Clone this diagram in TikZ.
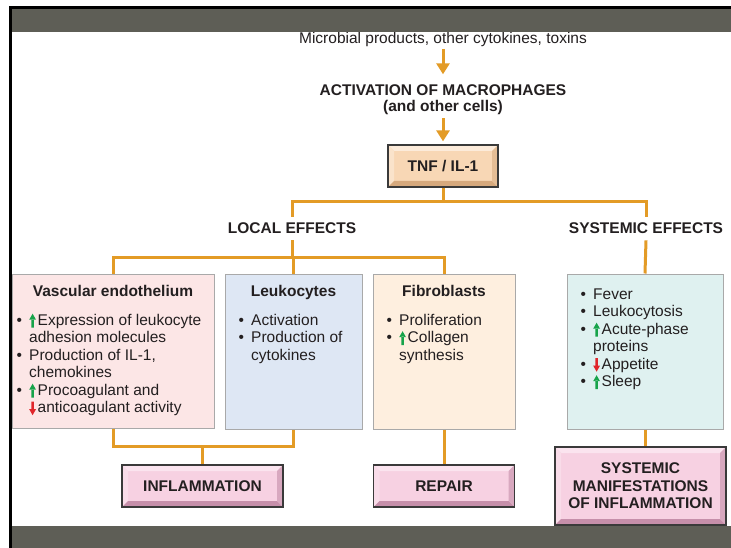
\documentclass[tikz,border=0pt]{standalone}
\usepackage{fontspec}
\setmainfont{Liberation Sans}
\usetikzlibrary{arrows.meta,positioning}

\definecolor{linkorange}{HTML}{E39B26}
\definecolor{bandgray}{HTML}{5E5E56}
\definecolor{inkgray}{HTML}{231F20}
\definecolor{edgegray}{HTML}{3A3A3A}
\definecolor{boxgray}{HTML}{A9A9A9}
\definecolor{vascfill}{HTML}{FCE6E6}
\definecolor{leukofill}{HTML}{DEE7F4}
\definecolor{fibrofill}{HTML}{FEEFDF}
\definecolor{sysfill}{HTML}{DFF1F0}
\definecolor{tanface}{HTML}{F8D7B5}
\definecolor{tantop}{HTML}{FCEBDA}
\definecolor{tanleft}{HTML}{FAE3CB}
\definecolor{tanbot}{HTML}{D6A97D}
\definecolor{tanright}{HTML}{E4BD95}
\definecolor{pinkface}{HTML}{F7D1E2}
\definecolor{pinktop}{HTML}{FBE4EF}
\definecolor{pinkleft}{HTML}{F9DCE9}
\definecolor{pinkbot}{HTML}{C68FAA}
\definecolor{pinkright}{HTML}{D8A8BF}
\definecolor{upgreen}{HTML}{17A34A}
\definecolor{downred}{HTML}{E0262B}

\newcommand{\boxbody}{\fontsize{15.5}{17.5}\selectfont}
\newcommand{\boxhead}{\bfseries\fontsize{15.5}{17.5}\selectfont}
\newcommand{\itm}{\strut\makebox[12.5pt][l]{\textbullet}}
\newcommand{\cont}{\strut\hspace*{12.5pt}}
\newcommand{\incr}{\makebox[8.5pt][l]{\tikz[baseline=0pt,x=1pt,y=1pt]\fill[upgreen] (1.6,-2.5) rectangle (4,6) (-0.6,5.5) -- (6.2,5.5) -- (2.8,11.5) -- cycle;}}
\newcommand{\decr}{\makebox[8.5pt][l]{\tikz[baseline=0pt,x=1pt,y=1pt]\fill[downred] (1.6,3) rectangle (4,11) (-0.6,3.5) -- (6.2,3.5) -- (2.8,-2.5) -- cycle;}}

\tikzset{
  plain/.style={font=\boxbody, text=inkgray, inner sep=0pt},
  caps/.style={font=\boxhead, text=inkgray, inner sep=0pt, align=center},
  listtext/.style={font=\boxbody, text=inkgray, inner sep=0pt, align=left, anchor=north west},
  link/.style={draw=linkorange, line width=3pt},
  flow/.style={link, -{Triangle[length=11pt,width=13pt]}},
  cellbox/.style={draw=boxgray, line width=1pt, inner sep=0pt},
  bevelbox/.style n args={5}{draw=edgegray, line width=1.3pt, fill=#1, inner sep=0pt,
    font=\boxhead, text=inkgray, align=center,
    path picture={
      \path (path picture bounding box.north west) coordinate (pa)
            (path picture bounding box.north east) coordinate (pb)
            (path picture bounding box.south east) coordinate (pc)
            (path picture bounding box.south west) coordinate (pd);
      \fill[#2] (pa) -- (pb) -- ([shift={(-6pt,-6pt)}]pb) -- ([shift={(6pt,-6pt)}]pa) -- cycle;
      \fill[#3] (pa) -- ([shift={(6pt,-6pt)}]pa) -- ([shift={(6pt,6pt)}]pd) -- (pd) -- cycle;
      \fill[#4] (pd) -- ([shift={(6pt,6pt)}]pd) -- ([shift={(-6pt,6pt)}]pc) -- (pc) -- cycle;
      \fill[#5] (pb) -- (pc) -- ([shift={(-6pt,6pt)}]pc) -- ([shift={(-6pt,-6pt)}]pb) -- cycle;
    }},
  tanbox/.style={bevelbox={tanface}{tantop}{tanleft}{tanbot}{tanright}},
  pinkbox/.style={bevelbox={pinkface}{pinktop}{pinkleft}{pinkbot}{pinkright}}
}

\begin{document}
\begin{tikzpicture}[x=1pt,y=1pt]
    \useasboundingbox (0,0) rectangle (731,-548);
    \fill[white] (0,0) rectangle (731,-548);

    \node[plain, anchor=base] (src) at (443,-43.5) {Microbial products, other cytokines, toxins};
    \node[caps, anchor=north, font=\bfseries\fontsize{15.5}{16}\selectfont] (act) at (443,-84.3) {ACTIVATION OF MACROPHAGES\\(and other cells)};
    \node[tanbox, minimum width=110pt, minimum height=42pt] (tnf) at (443,-166) {TNF / IL-1};
    \draw[flow, shorten <=2pt, shorten >=10pt] (src.south) -- (act.north);
    \draw[flow, shorten <=3.5pt, shorten >=3pt] (act.south) -- (tnf.north);

    \node[caps, anchor=base] (loc) at (292,-234) {LOCAL EFFECTS};
    \node[caps, anchor=base] (sysfx) at (646,-234) {SYSTEMIC EFFECTS};
    \coordinate (split) at (443,-202);
    \draw[link] (tnf.south) -- (split);
    \draw[link] ([yshift=6pt]loc.north) -- (loc.north |- split) -- (sysfx.north |- split) -- ([yshift=6pt]sysfx.north);

    % the four effect boxes
    \node[cellbox, fill=vascfill, minimum width=202pt, minimum height=154pt] (vasc) at (113,-351) {};
    \node[cellbox, fill=leukofill, minimum width=137pt, minimum height=155pt] (leuko) at (293.5,-351.5) {};
    \node[cellbox, fill=fibrofill, minimum width=142pt, minimum height=155pt] (fibro) at (444,-351.5) {};
    \node[cellbox, fill=sysfill, minimum width=156pt, minimum height=155pt] (sysbox) at (645,-351.5) {};

    \coordinate (lsplit) at (292,-258);
    \draw[link] ([yshift=-6pt]loc.south) -- (lsplit);
    \draw[link] (vasc.north) -- (vasc.north |- lsplit) -- (fibro.north |- lsplit) -- (fibro.north);
    \draw[link] (leuko.north) -- (leuko.north |- lsplit);
    \draw[link] ([yshift=-6pt]sysfx.south) -- (sysbox.north);

    \node[caps, anchor=base] (vasctitle) at ([yshift=-23pt]vasc.north) {Vascular endothelium};
    \node[caps, anchor=base] (leukotitle) at ([yshift=-23pt]leuko.north) {Leukocytes};
    \node[caps, anchor=base] (fibrotitle) at ([yshift=-23pt]fibro.north) {Fibroblasts};

    \node[listtext] (vasclist) at ([shift={(5pt,-39.25pt)}]vasc.north west) {\itm\incr Expression of leukocyte\\
      \cont adhesion molecules\\
      \itm Production of IL-1,\\
      \cont chemokines\\
      \itm\incr Procoagulant and\\
      \cont\decr anticoagulant activity};
    \node[listtext] (leukolist) at ([shift={(14pt,-39.25pt)}]leuko.north west) {\itm Activation\\
      \itm Production of\\
      \cont cytokines};
    \node[listtext] (fibrolist) at ([shift={(14pt,-39.25pt)}]fibro.north west) {\itm Proliferation\\
      \itm\incr Collagen\\
      \cont synthesis};
    \node[listtext] (syslist) at ([shift={(14pt,-13.25pt)}]sysbox.north west) {\itm Fever\\
      \itm Leukocytosis\\
      \itm\incr Acute-phase\\
      \cont proteins\\
      \itm\decr Appetite\\
      \itm\incr Sleep};

    % outcomes
    \node[pinkbox, minimum width=161pt, minimum height=42pt] (infl) at (202.5,-486) {INFLAMMATION};
    \node[pinkbox, minimum width=141pt, minimum height=42pt] (repair) at (444,-486) {REPAIR};
    \node[pinkbox, minimum width=171pt, minimum height=78pt] (sysman) at (640.5,-486) {SYSTEMIC\\MANIFESTATIONS\\OF INFLAMMATION};
    \coordinate (bjoin) at (203,-446);
    \draw[link] (vasc.south) -- (vasc.south |- bjoin) -- (leuko.south |- bjoin) -- (leuko.south);
    \draw[link] (infl.north |- bjoin) -- (infl.north);
    \draw[link] (fibro.south) -- (repair.north);
    \draw[link] (sysbox.south) -- (sysbox.south |- sysman.north);

    % slide frame
    \fill[black] (9,-6) rectangle (731,-9);
    \fill[bandgray] (9,-9) rectangle (731,-32);
    \fill[black] (9,-6) rectangle (12,-548);
    \fill[bandgray] (12,-526) rectangle (731,-548);
\end{tikzpicture}
\end{document}
